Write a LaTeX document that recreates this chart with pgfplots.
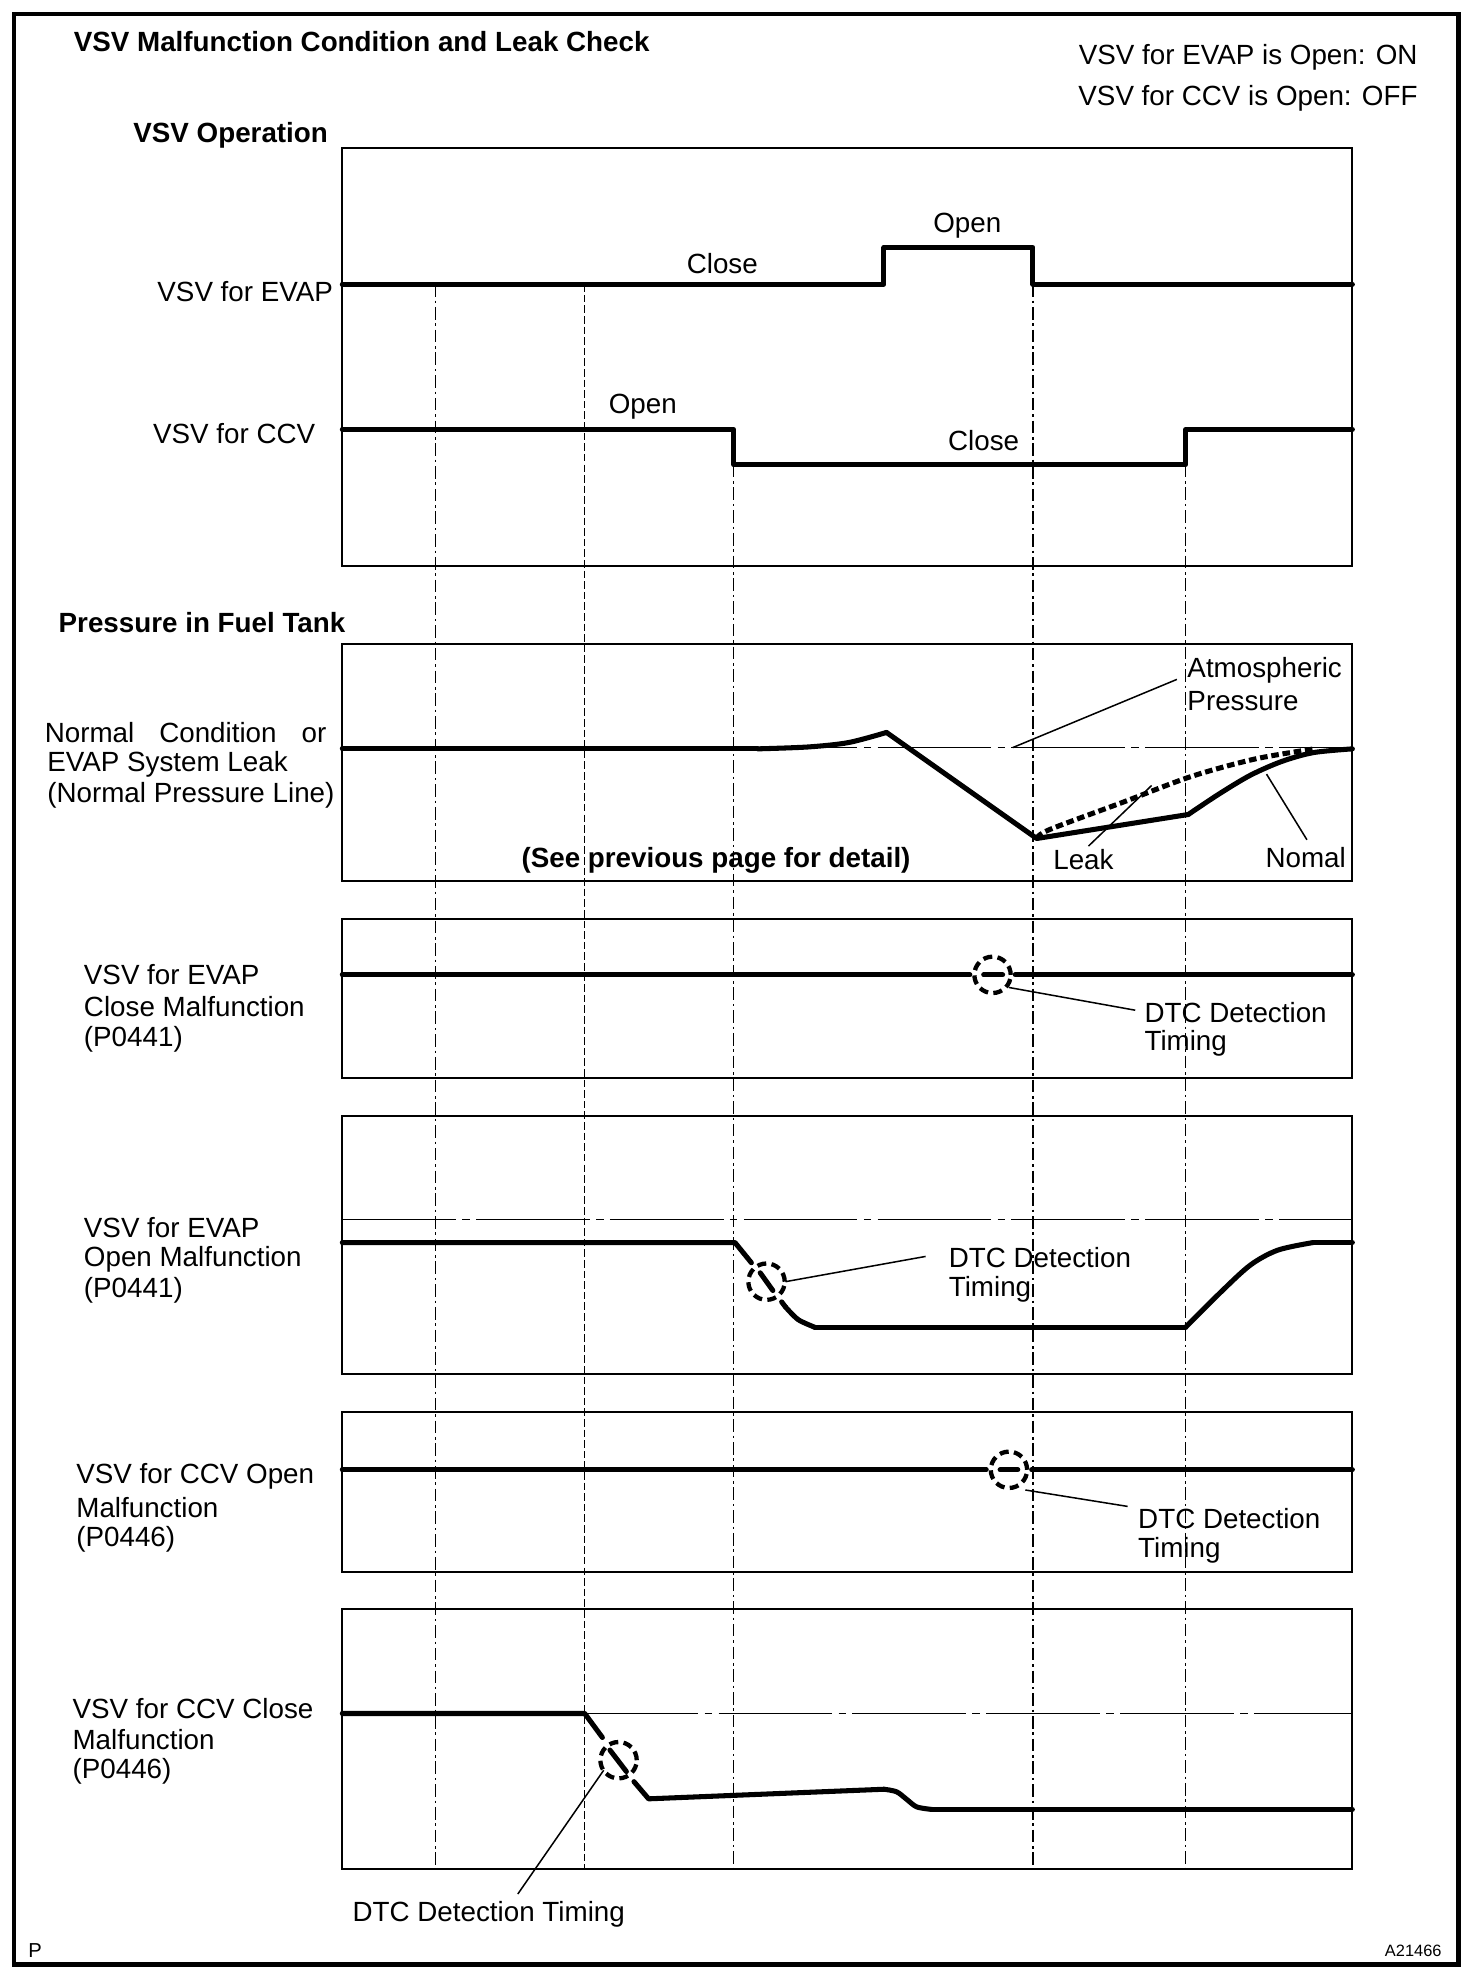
\documentclass[border=0pt]{standalone}
\usepackage{fontspec}
\setmainfont{Liberation Sans}
\usepackage{pgfplots}
\pgfplotsset{compat=1.18}
\tikzset{
 sig/.style={black, line width=2pt, line join=round, line cap=round},
 frm/.style={black, line width=0.8pt, line cap=rect},
 vgrid/.style={black, line width=0.45pt, dash pattern=on 5pt off 1.5pt on 1pt off 1.5pt},
 vgridB/.style={black, line width=0.6pt, dash pattern=on 3pt off 1.2pt},
 atm/.style={black, line width=0.45pt, dash pattern=on 45pt off 2.5pt on 3pt off 2.5pt},
 lead/.style={black, line width=0.6pt},
 lbl/.style={font=\fontsize{11}{13}\selectfont, inner sep=0pt},
 dcirc/.style={black, only marks, mark=o, mark size=7.2pt, mark options={draw=black, fill=none, line width=1.7pt, dash pattern=on 3.6pt off 2.1pt}},
}
\begin{document}
\begin{tikzpicture}
\begin{axis}[
  width=583pt, height=784pt, scale only axis,
  xmin=0, xmax=1166, ymin=0, ymax=1568, y dir=reverse,
  axis line style={draw=none}, ticks=none, clip=false,
]
% page extent
\addplot[white, line width=0.1pt] coordinates {(0,0)(1166,0)(1166,1568)(0,1568)(0,0)};
% outer border
\addplot[black, line width=1.8pt, line cap=rect] coordinates {(11,11)(1155,11)(1155,1556)(11,1556)(11,11)};
% panel frames
\addplot[frm] coordinates {(271,117)(1071,117)(1071,448)(271,448)(271,117)};
\addplot[frm] coordinates {(271,510)(1071,510)(1071,698)(271,698)(271,510)};
\addplot[frm] coordinates {(271,728)(1071,728)(1071,854)(271,854)(271,728)};
\addplot[frm] coordinates {(271,884)(1071,884)(1071,1088)(271,1088)(271,884)};
\addplot[frm] coordinates {(271,1118)(1071,1118)(1071,1245)(271,1245)(271,1118)};
\addplot[frm] coordinates {(271,1274)(1071,1274)(1071,1480)(271,1480)(271,1274)};
% vertical timing lines
\addplot[vgrid] coordinates {(345,225)(345,1480)};
\addplot[vgridB] coordinates {(463,225)(463,1480)};
\addplot[vgrid] coordinates {(581,368)(581,1480)};
\addplot[vgrid] coordinates {(818,225)(818,1480)};
\addplot[vgrid] coordinates {(939,368)(939,1480)};
% atmospheric reference lines
\addplot[atm] coordinates {(271,592)(1071,592)};
\addplot[atm] coordinates {(271,966)(1071,966)};
\addplot[atm] coordinates {(463,1357)(1071,1357)};
% panel 1 signals
\addplot[sig] coordinates {(271,225)(700,225)(700,196)(818,196)(818,225)(1071,225)};
\addplot[sig] coordinates {(271,340)(581,340)(581,368)(939,368)(939,340)(1071,340)};
% panel 2 pressure
\addplot[sig] coordinates {(271,593)(600,593)};
\addplot[sig, smooth] coordinates {(600,593)(640,591.5)(672,588)(702,580)};
\addplot[sig] coordinates {(702,580)(821,664)(941,645)};
\addplot[sig, smooth] coordinates {(941,645)(965,629)(990,614)(1015,603)(1040,596)(1071,593)};
\addplot[black, line width=2pt, dash pattern=on 3pt off 1.5pt, smooth] coordinates {(821,664)(831,657)(890,635)(943,615)(994,601)(1041,593)};
% panel 3
\addplot[sig] coordinates {(271,772)(768,772)};
\addplot[sig] coordinates {(779,772)(794,772)};
\addplot[sig] coordinates {(804,772)(1071,772)};
\addplot[dcirc] coordinates {(786,772)};
% panel 4
\addplot[sig] coordinates {(271,984)(582,984)(595,1000)};
\addplot[sig] coordinates {(602,1008)(612,1022)};
\addplot[sig] coordinates {(619,1031)(622,1035)};
\addplot[sig, smooth] coordinates {(622,1035)(632,1045)(645,1051)};
\addplot[sig] coordinates {(645,1051)(939,1051)};
\addplot[sig, smooth] coordinates {(939,1051)(965,1025)(990,1002)(1012,990)(1040,984)};
\addplot[sig] coordinates {(1040,984)(1071,984)};
\addplot[dcirc] coordinates {(607,1015)};
% panel 5
\addplot[sig] coordinates {(271,1164)(781,1164)};
\addplot[sig] coordinates {(792,1164)(806,1164)};
\addplot[sig] coordinates {(817,1164)(1071,1164)};
\addplot[dcirc] coordinates {(799,1164)};
% panel 6
\addplot[sig] coordinates {(271,1357)(463,1357)(477,1376)};
\addplot[sig] coordinates {(483,1386)(496,1403)};
\addplot[sig] coordinates {(502,1411)(513.6,1424.6)(700,1417)};
\addplot[sig, smooth] coordinates {(700,1417)(710,1419)(718,1425)(726,1431)(738,1433)};
\addplot[sig] coordinates {(738,1433)(1071,1433)};
\addplot[dcirc] coordinates {(489.8,1394)};
% leader lines
\addplot[lead] coordinates {(932,538)(802,592)};
\addplot[lead] coordinates {(862,670)(912,622)};
\addplot[lead] coordinates {(1003,613)(1035,665)};
\addplot[lead] coordinates {(799,782)(899,800)};
\addplot[lead] coordinates {(622,1015)(733,995)};
\addplot[lead] coordinates {(812,1180)(893,1193)};
\addplot[lead] coordinates {(478,1402)(410,1500)};
% texts
\node[lbl, anchor=west] at (58,33) {\bfseries VSV Malfunction Condition and Leak Check};
\node[lbl, anchor=east] at (1123,45) {VSV for EVAP is Open: ON};
\node[lbl, anchor=east] at (1123,78) {VSV for CCV is Open: OFF};
\node[lbl, anchor=east] at (260,107) {\bfseries VSV Operation};
\node[lbl, anchor=east] at (264,231) {VSV for EVAP};
\node[lbl, anchor=east] at (250,343) {VSV for CCV};
\node[lbl] at (572,209) {Close};
\node[lbl] at (766,179) {Open};
\node[lbl] at (509,322) {Open};
\node[lbl] at (779,349) {Close};
\node[lbl, anchor=west] at (46,493) {\bfseries Pressure in Fuel Tank};
\node[lbl, anchor=west] at (35,580) {\makebox[111.5pt][s]{Normal Condition or}};
\node[lbl, anchor=west] at (37,605) {EVAP System Leak};
\node[lbl, anchor=west] at (37,630) {(Normal Pressure Line)};
\node[lbl, anchor=west] at (940,531) {Atmospheric};
\node[lbl, anchor=west] at (940,555) {Pressure};
\node[lbl] at (567,681) {\bfseries (See previous page for detail)};
\node[lbl] at (858,681) {Leak};
\node[lbl] at (1034,679) {Nomal};
\node[lbl, anchor=west] at (66,772) {VSV for EVAP};
\node[lbl, anchor=west] at (66,797) {Close Malfunction};
\node[lbl, anchor=west] at (66,823) {(P0441)};
\node[lbl, anchor=west] at (906,802) {DTC Detection};
\node[lbl, anchor=west] at (906,826) {Timing};
\node[lbl, anchor=west] at (66,972) {VSV for EVAP};
\node[lbl, anchor=west] at (66,997) {Open Malfunction};
\node[lbl, anchor=west] at (66,1022) {(P0441)};
\node[lbl, anchor=west] at (751,996) {DTC Detection};
\node[lbl, anchor=west] at (751,1021) {Timing};
\node[lbl, anchor=west] at (60,1169) {VSV for CCV Open};
\node[lbl, anchor=west] at (60,1194) {Malfunction};
\node[lbl, anchor=west] at (60,1219) {(P0446)};
\node[lbl, anchor=west] at (901,1203) {DTC Detection};
\node[lbl, anchor=west] at (901,1228) {Timing};
\node[lbl, anchor=west] at (57,1353) {VSV for CCV Close};
\node[lbl, anchor=west] at (57,1378) {Malfunction};
\node[lbl, anchor=west] at (57,1403) {(P0446)};
\node[lbl] at (387,1516) {DTC Detection Timing};
\node[lbl, anchor=west, font=\fontsize{8}{9}\selectfont] at (22,1545) {P};
\node[lbl, anchor=east, font=\fontsize{6.5}{8}\selectfont] at (1142,1545) {A21466};
\end{axis}
\end{tikzpicture}
\end{document}
